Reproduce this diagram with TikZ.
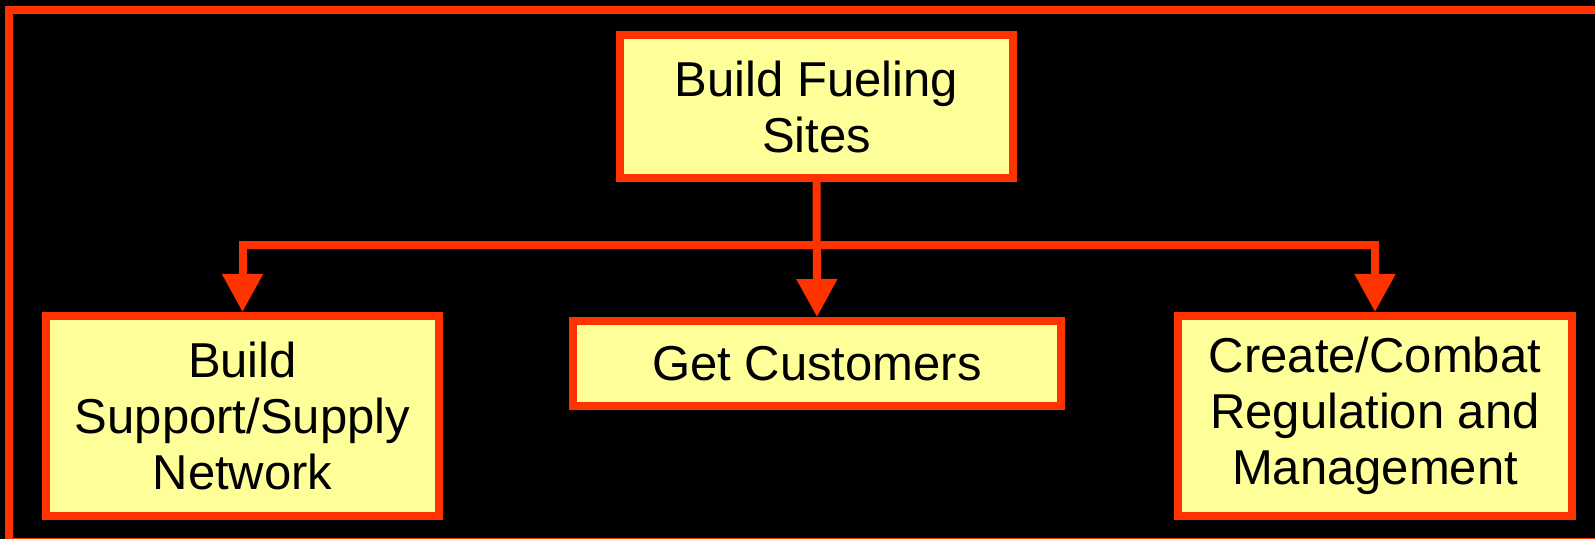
\documentclass[tikz,border=0pt]{standalone}
\usepackage{fontspec}
\setmainfont{Liberation Sans}
\usetikzlibrary{arrows.meta}
\definecolor{frame}{HTML}{FF3300}
\definecolor{boxfill}{HTML}{FFFF99}
\begin{document}
\begin{tikzpicture}[x=0.5pt,y=-0.5pt,
  box/.style={draw=frame, fill=boxfill, line width=4pt, align=center, inner sep=0pt,
    font=\fontsize{24.5pt}{28pt}\selectfont, text=black},
  conn/.style={draw=frame, line width=4pt, line join=miter},
  arr/.style={conn, -{Triangle[width=19.5pt,length=19pt]}}]
\useasboundingbox (0,0) rectangle (1595,539);
\fill[black] (0,0) rectangle (1595,539);
\draw[frame, line width=4pt] (9,10) rectangle (1610,542);
\node[box, minimum width=196.5pt, minimum height=71.5pt] (top) at (816.5,106.5) {Build Fueling\\Sites};
\node[box, minimum width=196.5pt, minimum height=100pt] (left) at (242.5,416) {Build\\Support/Supply\\Network};
\node[box, minimum width=244pt, minimum height=42.5pt] (mid) at (817,363.5) {Get Customers};
\node[box, minimum width=197pt, minimum height=100pt] (right) at (1375,416) {Create/Combat\\Regulation and\\Management};
\coordinate (j) at (817,245);
\draw[arr] (top.south) -- (mid.north);
\draw[arr] (j) -| (left.north);
\draw[arr] (j) -| (right.north);
\end{tikzpicture}
\end{document}
